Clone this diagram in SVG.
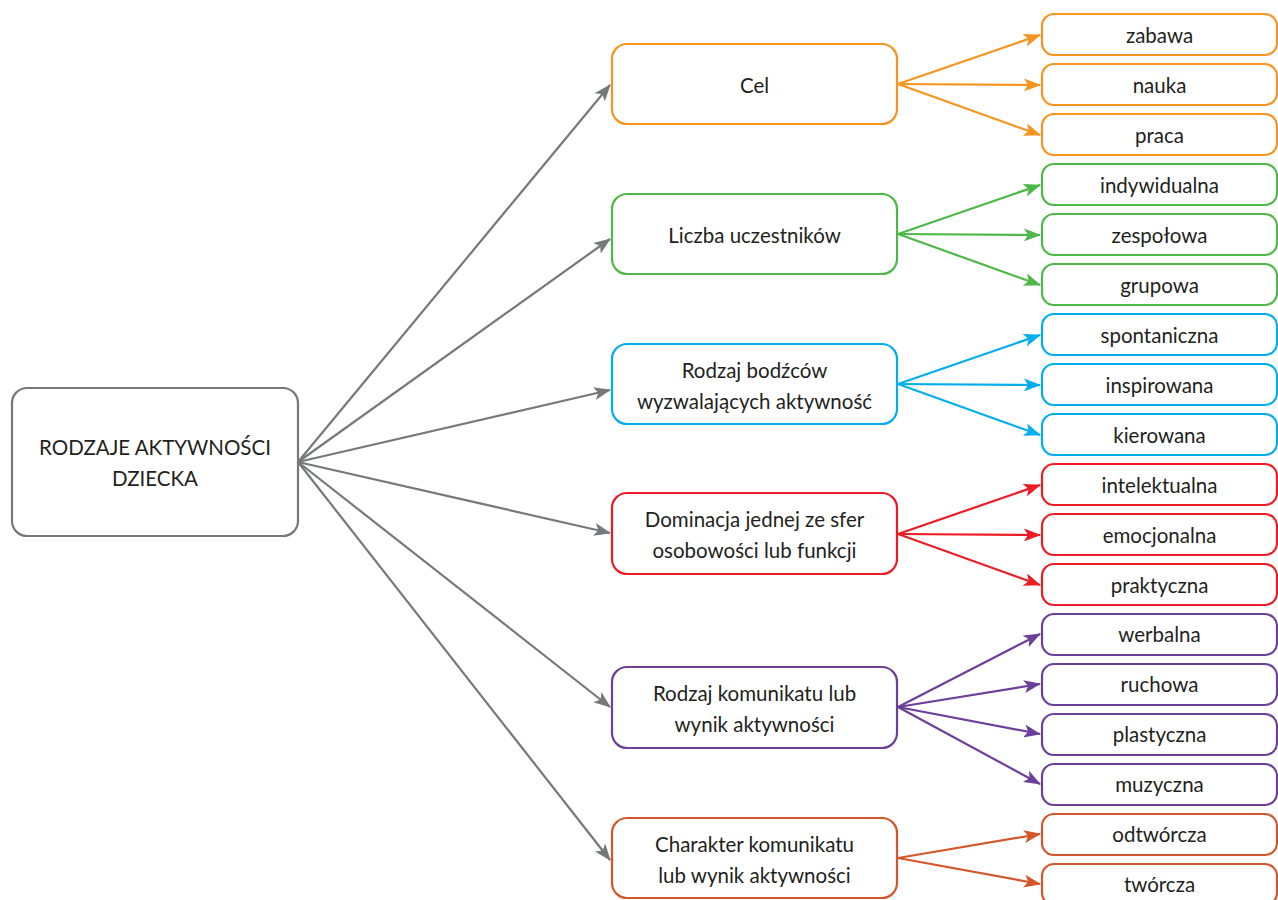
<svg xmlns="http://www.w3.org/2000/svg" width="1278" height="900" viewBox="0 0 1278 900">
<style>
text{font-family:Lato,"Open Sans","Liberation Sans",sans-serif;font-size:20.5px;fill:#231f20;text-anchor:middle;dominant-baseline:central}
rect{fill:#fff;stroke-width:2.2}
line{stroke-width:2.2}
.g{stroke:#77787b}
.o{stroke:#f7941d}
.gr{stroke:#4db848}
.b{stroke:#00aeef}
.r{stroke:#ed1c24}
.p{stroke:#6c3f99}
.d{stroke:#d4562b}
</style>
<defs>
<marker id="ag" markerUnits="userSpaceOnUse" markerWidth="17" markerHeight="13" refX="16" refY="6.5" orient="auto"><path d="M0,0 L17,6.5 L0,13 L4,6.5 z" fill="#77787b"/></marker>
<marker id="ao" markerUnits="userSpaceOnUse" markerWidth="17" markerHeight="13" refX="16" refY="6.5" orient="auto"><path d="M0,0 L17,6.5 L0,13 L4,6.5 z" fill="#f7941d"/></marker>
<marker id="agr" markerUnits="userSpaceOnUse" markerWidth="17" markerHeight="13" refX="16" refY="6.5" orient="auto"><path d="M0,0 L17,6.5 L0,13 L4,6.5 z" fill="#4db848"/></marker>
<marker id="ab" markerUnits="userSpaceOnUse" markerWidth="17" markerHeight="13" refX="16" refY="6.5" orient="auto"><path d="M0,0 L17,6.5 L0,13 L4,6.5 z" fill="#00aeef"/></marker>
<marker id="ar" markerUnits="userSpaceOnUse" markerWidth="17" markerHeight="13" refX="16" refY="6.5" orient="auto"><path d="M0,0 L17,6.5 L0,13 L4,6.5 z" fill="#ed1c24"/></marker>
<marker id="ap" markerUnits="userSpaceOnUse" markerWidth="17" markerHeight="13" refX="16" refY="6.5" orient="auto"><path d="M0,0 L17,6.5 L0,13 L4,6.5 z" fill="#6c3f99"/></marker>
<marker id="ad" markerUnits="userSpaceOnUse" markerWidth="17" markerHeight="13" refX="16" refY="6.5" orient="auto"><path d="M0,0 L17,6.5 L0,13 L4,6.5 z" fill="#d4562b"/></marker>
</defs>
<rect x="0" y="0" width="1278" height="900" style="fill:#fff;stroke:none"/>
<g id="connectors">
<line class="g" x1="298" y1="462" x2="610" y2="85" marker-end="url(#ag)"/>
<line class="g" x1="298" y1="462" x2="610" y2="239" marker-end="url(#ag)"/>
<line class="g" x1="298" y1="462" x2="610" y2="390" marker-end="url(#ag)"/>
<line class="g" x1="298" y1="462" x2="610" y2="533" marker-end="url(#ag)"/>
<line class="g" x1="298" y1="462" x2="610" y2="707" marker-end="url(#ag)"/>
<line class="g" x1="298" y1="462" x2="610" y2="860" marker-end="url(#ag)"/>
<line class="o" x1="898" y1="84" x2="1040" y2="35" marker-end="url(#ao)"/>
<line class="o" x1="898" y1="84" x2="1040" y2="85" marker-end="url(#ao)"/>
<line class="o" x1="898" y1="84" x2="1040" y2="135" marker-end="url(#ao)"/>
<line class="gr" x1="898" y1="234" x2="1040" y2="185" marker-end="url(#agr)"/>
<line class="gr" x1="898" y1="234" x2="1040" y2="235" marker-end="url(#agr)"/>
<line class="gr" x1="898" y1="234" x2="1040" y2="285" marker-end="url(#agr)"/>
<line class="b" x1="898" y1="384" x2="1040" y2="335" marker-end="url(#ab)"/>
<line class="b" x1="898" y1="384" x2="1040" y2="385" marker-end="url(#ab)"/>
<line class="b" x1="898" y1="384" x2="1040" y2="435" marker-end="url(#ab)"/>
<line class="r" x1="898" y1="534" x2="1040" y2="485" marker-end="url(#ar)"/>
<line class="r" x1="898" y1="534" x2="1040" y2="535" marker-end="url(#ar)"/>
<line class="r" x1="898" y1="534" x2="1040" y2="585" marker-end="url(#ar)"/>
<line class="p" x1="898" y1="707" x2="1040" y2="634" marker-end="url(#ap)"/>
<line class="p" x1="898" y1="707" x2="1040" y2="684" marker-end="url(#ap)"/>
<line class="p" x1="898" y1="707" x2="1040" y2="734" marker-end="url(#ap)"/>
<line class="p" x1="898" y1="707" x2="1040" y2="784" marker-end="url(#ap)"/>
<line class="d" x1="898" y1="858" x2="1040" y2="834" marker-end="url(#ad)"/>
<line class="d" x1="898" y1="858" x2="1040" y2="884" marker-end="url(#ad)"/>
</g>
<g id="root"><rect class="g" x="12" y="388" width="286" height="148" rx="15"/><text x="155" y="447">RODZAJE AKTYWNOŚCI</text><text x="155" y="478">DZIECKA</text></g>
<g id="cel"><rect class="o" x="612" y="44" width="285" height="80" rx="15"/><text x="754.5" y="85">Cel</text></g>
<g id="liczba"><rect class="gr" x="612" y="194" width="285" height="80" rx="15"/><text x="754.5" y="235">Liczba uczestników</text></g>
<g id="bodzce"><rect class="b" x="612" y="344" width="285" height="80" rx="15"/><text x="754.5" y="370">Rodzaj bodźców</text><text x="754.5" y="401">wyzwalających aktywność</text></g>
<g id="dominacja"><rect class="r" x="612" y="493" width="285" height="81" rx="15"/><text x="754.5" y="519">Dominacja jednej ze sfer</text><text x="754.5" y="550">osobowości lub funkcji</text></g>
<g id="komunikat"><rect class="p" x="612" y="667" width="285" height="81" rx="15"/><text x="754.5" y="693">Rodzaj komunikatu lub</text><text x="754.5" y="724">wynik aktywności</text></g>
<g id="charakter"><rect class="d" x="612" y="818" width="285" height="80" rx="15"/><text x="754.5" y="844">Charakter komunikatu</text><text x="754.5" y="875">lub wynik aktywności</text></g>
<g id="zabawa"><rect class="o" x="1042" y="14" width="235" height="41" rx="12"/><text x="1159.5" y="35">zabawa</text></g>
<g id="nauka"><rect class="o" x="1042" y="64" width="235" height="41" rx="12"/><text x="1159.5" y="85">nauka</text></g>
<g id="praca"><rect class="o" x="1042" y="114" width="235" height="41" rx="12"/><text x="1159.5" y="135">praca</text></g>
<g id="indywidualna"><rect class="gr" x="1042" y="164" width="235" height="41" rx="12"/><text x="1159.5" y="185">indywidualna</text></g>
<g id="zespolowa"><rect class="gr" x="1042" y="214" width="235" height="41" rx="12"/><text x="1159.5" y="235">zespołowa</text></g>
<g id="grupowa"><rect class="gr" x="1042" y="264" width="235" height="41" rx="12"/><text x="1159.5" y="285">grupowa</text></g>
<g id="spontaniczna"><rect class="b" x="1042" y="314" width="235" height="41" rx="12"/><text x="1159.5" y="335">spontaniczna</text></g>
<g id="inspirowana"><rect class="b" x="1042" y="364" width="235" height="41" rx="12"/><text x="1159.5" y="385">inspirowana</text></g>
<g id="kierowana"><rect class="b" x="1042" y="414" width="235" height="41" rx="12"/><text x="1159.5" y="435">kierowana</text></g>
<g id="intelektualna"><rect class="r" x="1042" y="464" width="235" height="41" rx="12"/><text x="1159.5" y="485">intelektualna</text></g>
<g id="emocjonalna"><rect class="r" x="1042" y="514" width="235" height="41" rx="12"/><text x="1159.5" y="535">emocjonalna</text></g>
<g id="praktyczna"><rect class="r" x="1042" y="564" width="235" height="41" rx="12"/><text x="1159.5" y="585">praktyczna</text></g>
<g id="werbalna"><rect class="p" x="1042" y="614" width="235" height="41" rx="12"/><text x="1159.5" y="634">werbalna</text></g>
<g id="ruchowa"><rect class="p" x="1042" y="664" width="235" height="41" rx="12"/><text x="1159.5" y="684">ruchowa</text></g>
<g id="plastyczna"><rect class="p" x="1042" y="714" width="235" height="41" rx="12"/><text x="1159.5" y="734">plastyczna</text></g>
<g id="muzyczna"><rect class="p" x="1042" y="764" width="235" height="41" rx="12"/><text x="1159.5" y="784">muzyczna</text></g>
<g id="odtworcza"><rect class="d" x="1042" y="814" width="235" height="41" rx="12"/><text x="1159.5" y="834">odtwórcza</text></g>
<g id="tworcza"><rect class="d" x="1042" y="864" width="235" height="41" rx="12"/><text x="1159.5" y="884">twórcza</text></g>
</svg>
